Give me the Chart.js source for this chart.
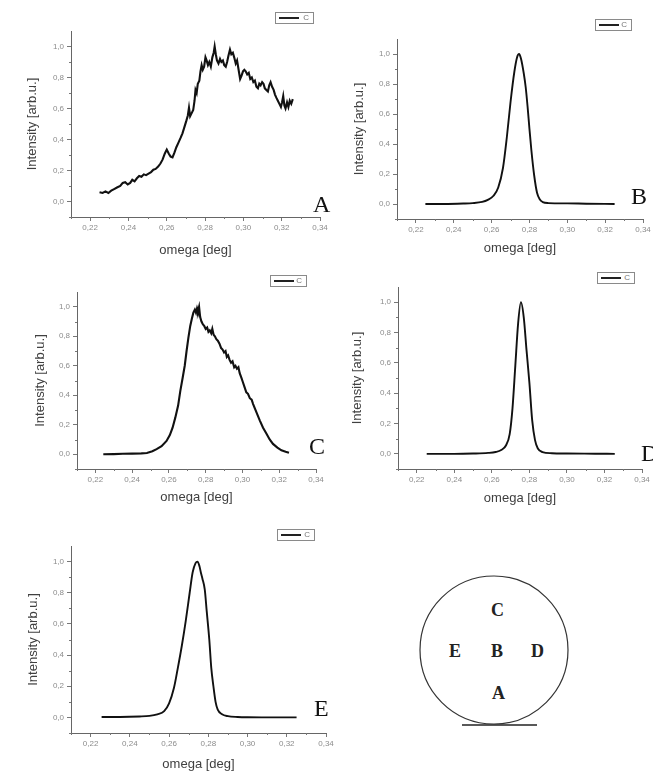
<!DOCTYPE html>
<html>
<head>
<meta charset="utf-8">
<script src="https://cdn.jsdelivr.net/npm/chart.js@4.4.1/dist/chart.umd.min.js"></script>
<style>
body{margin:0;background:#fff;width:653px;height:775px;position:relative;overflow:hidden;font-family:"Liberation Sans",Arial,sans-serif}
canvas{position:absolute}
.lg{position:absolute;border:1px solid #8a8a8a;background:#fff;font-size:8px;color:#777;line-height:9px}
.lg i{position:absolute;left:3px;top:4px;width:20px;height:2px;background:#222}
.lg span{position:absolute;right:4px;top:0}
.tag{position:absolute;font-family:"Liberation Serif","Times New Roman",serif;font-size:24px;line-height:24px;color:#111}
.wafer{position:absolute;font-family:"Liberation Serif","Times New Roman",serif;font-weight:bold;font-size:18px;line-height:18px;color:#222}
</style>
</head>
<body>
<svg style="position:absolute;left:400px;top:560px" width="200" height="180">
  <circle cx="94" cy="90" r="74" fill="none" stroke="#333" stroke-width="1.2"/>
  <line x1="62" y1="165" x2="137" y2="165" stroke="#222" stroke-width="1.5"/>
</svg>
<div class="wafer" style="left:491px;top:601px">C</div>
<div class="wafer" style="left:449px;top:642px">E</div>
<div class="wafer" style="left:491px;top:642px">B</div>
<div class="wafer" style="left:531px;top:642px">D</div>
<div class="wafer" style="left:492px;top:684px">A</div>
<script>
// tick values and labels (same for all five panels)
const xTicks = [0.22, 0.24, 0.26, 0.28, 0.30, 0.32, 0.34];
const xTickLabels = ['0,22', '0,24', '0,26', '0,28', '0,30', '0,32', '0,34'];
const xMinor = [0.21, 0.23, 0.25, 0.27, 0.29, 0.31, 0.33];
const yTicks = [0, 0.2, 0.4, 0.6, 0.8, 1.0];
const yTickLabels = ['0,0', '0,2', '0,4', '0,6', '0,8', '1,0'];
const yMinor = [-0.1, 0.1, 0.3, 0.5, 0.7, 0.9];
const seriesName = 'C';
const xTitle = 'omega [deg]';
const yTitle = 'Intensity [arb.u.]';

// panel A
const aX = [0.2249,0.2265,0.2280,0.2295,0.2310,0.2325,0.2340,0.2357,0.2370,0.2383,0.2396,0.2409,0.2420,0.2432,0.2444,0.2456,0.2468,0.2480,0.2492,0.2505,0.2518,0.2530,0.2542,0.2555,0.2567,0.2578,0.2590,0.2600,0.2610,0.2620,0.2630,0.2640,0.2650,0.2661,0.2672,0.2682,0.2692,0.2702,0.2710,0.2716,0.2722,0.2730,0.2738,0.2745,0.2750,0.2756,0.2762,0.2770,0.2776,0.2782,0.2788,0.2795,0.2802,0.2808,0.2815,0.2822,0.2830,0.2838,0.2845,0.2850,0.2856,0.2862,0.2870,0.2878,0.2885,0.2893,0.2900,0.2908,0.2915,0.2922,0.2930,0.2937,0.2945,0.2952,0.2960,0.2967,0.2975,0.2983,0.2990,0.2998,0.3005,0.3012,0.3020,0.3028,0.3036,0.3044,0.3052,0.3060,0.3068,0.3076,0.3083,0.3090,0.3098,0.3105,0.3112,0.3120,0.3128,0.3135,0.3142,0.3150,0.3158,0.3165,0.3172,0.3180,0.3188,0.3196,0.3202,0.3208,0.3214,0.3220,0.3228,0.3235,0.3242,0.3250,0.3258];
const aY = [0.06,0.055,0.065,0.055,0.07,0.08,0.09,0.10,0.12,0.125,0.11,0.12,0.14,0.13,0.15,0.165,0.16,0.175,0.17,0.18,0.19,0.205,0.21,0.225,0.245,0.27,0.31,0.335,0.31,0.29,0.285,0.315,0.35,0.38,0.41,0.44,0.48,0.52,0.555,0.605,0.55,0.57,0.59,0.65,0.72,0.70,0.76,0.78,0.84,0.88,0.85,0.87,0.93,0.91,0.88,0.90,0.87,0.93,0.96,1.0,0.95,0.91,0.89,0.92,0.90,0.91,0.88,0.87,0.90,0.94,0.98,0.95,0.96,0.93,0.89,0.91,0.85,0.79,0.81,0.84,0.85,0.84,0.82,0.83,0.79,0.80,0.77,0.78,0.74,0.73,0.76,0.75,0.77,0.76,0.73,0.72,0.71,0.75,0.77,0.74,0.72,0.69,0.67,0.65,0.63,0.61,0.64,0.68,0.62,0.60,0.64,0.61,0.65,0.63,0.66];

// panel B
const bX = [0.225,0.235,0.245,0.250,0.255,0.258,0.261,0.2635,0.266,0.268,0.270,0.272,0.2735,0.2745,0.2755,0.277,0.278,0.279,0.280,0.281,0.2825,0.284,0.2855,0.287,0.290,0.300,0.310,0.325];
const bY = [0.0,0.0,0.003,0.006,0.014,0.028,0.055,0.11,0.24,0.44,0.68,0.88,0.98,1.0,0.97,0.87,0.78,0.65,0.5,0.36,0.19,0.075,0.03,0.013,0.006,0.004,0.002,0.0];

// panel C
const cX = [0.2243,0.230,0.235,0.240,0.245,0.248,0.251,0.2533,0.256,0.2587,0.2605,0.2620,0.2635,0.2650,0.2662,0.2675,0.2686,0.2696,0.2706,0.2716,0.2725,0.2733,0.2741,0.2747,0.2753,0.2758,0.2764,0.2770,0.2777,0.2785,0.2792,0.2800,0.2808,0.2815,0.2822,0.2830,0.2836,0.2843,0.2850,0.2858,0.2866,0.2875,0.2884,0.2892,0.2900,0.2908,0.2915,0.2922,0.2930,0.2938,0.2946,0.2955,0.2962,0.2970,0.2978,0.2985,0.2994,0.3002,0.3010,0.3021,0.3030,0.3040,0.3050,0.3058,0.3074,0.3094,0.3112,0.3130,0.3148,0.3166,0.3190,0.3212,0.3235,0.3253];
const cY = [0.0,0.001,0.003,0.004,0.006,0.009,0.02,0.035,0.055,0.09,0.13,0.18,0.25,0.33,0.43,0.52,0.60,0.70,0.79,0.87,0.92,0.96,0.98,0.96,0.99,0.97,1.0,0.93,0.90,0.88,0.87,0.85,0.86,0.83,0.84,0.82,0.85,0.81,0.80,0.78,0.77,0.75,0.72,0.71,0.69,0.70,0.66,0.67,0.64,0.62,0.63,0.59,0.60,0.58,0.59,0.55,0.52,0.49,0.46,0.42,0.41,0.38,0.37,0.34,0.29,0.23,0.18,0.14,0.10,0.07,0.045,0.027,0.017,0.01];

// panel D
const dX = [0.2253,0.240,0.250,0.258,0.262,0.265,0.2675,0.2695,0.271,0.2725,0.274,0.2755,0.277,0.2785,0.280,0.2815,0.283,0.2845,0.287,0.292,0.300,0.315,0.3255];
const dY = [0.0,0.0,0.002,0.006,0.012,0.025,0.055,0.13,0.30,0.58,0.86,1.0,0.90,0.68,0.47,0.22,0.09,0.035,0.012,0.004,0.002,0.001,0.0];

// panel E
const eX = [0.2256,0.235,0.245,0.250,0.254,0.2575,0.260,0.2625,0.2645,0.2665,0.2685,0.2705,0.272,0.2735,0.2745,0.2755,0.2762,0.277,0.2782,0.2792,0.2805,0.2815,0.2826,0.2837,0.2848,0.287,0.290,0.295,0.300,0.310,0.325];
const eY = [0.003,0.003,0.006,0.01,0.02,0.04,0.09,0.19,0.32,0.46,0.62,0.80,0.93,0.99,1.0,0.97,0.93,0.89,0.82,0.68,0.5,0.32,0.2,0.1,0.05,0.02,0.008,0.003,0.001,0.0,0.0];

// where each panel sits on the page
const panels = [
  {tag: 'A', xs: aX, ys: aY, smooth: false, L: 71,  T: 31,  R: 320, B: 217, yOff: 39, xOff: 33, legend: [275, 12, 37, 10],  tagPos: [313, 192]},
  {tag: 'B', xs: bX, ys: bY, smooth: true,  L: 397, T: 39,  R: 643, B: 219, yOff: 38, xOff: 29, legend: [595, 19, 35, 10],  tagPos: [631, 184]},
  {tag: 'C', xs: cX, ys: cY, smooth: false, L: 77,  T: 292, R: 316, B: 469, yOff: 37, xOff: 28, legend: [270, 275, 35, 10], tagPos: [309, 434]},
  {tag: 'D', xs: dX, ys: dY, smooth: true,  L: 398, T: 287, R: 642, B: 469, yOff: 41, xOff: 29, legend: [597, 272, 36, 10], tagPos: [641, 441]},
  {tag: 'E', xs: eX, ys: eY, smooth: true,  L: 71,  T: 546, R: 326, B: 733, yOff: 38, xOff: 31, legend: [277, 529, 36, 10], tagPos: [314, 696]}
];

const fontFam = '"Liberation Sans", Arial, sans-serif';

const minorTicks = {
  id: 'minorTicks',
  afterDraw(chart) {
    const {ctx, chartArea: a, scales: {x, y}} = chart;
    ctx.save();
    ctx.strokeStyle = '#777';
    ctx.lineWidth = 1;
    ctx.beginPath();
    xMinor.forEach(v => {
      const px = Math.round(x.getPixelForValue(v)) + 0.5;
      ctx.moveTo(px, a.bottom);
      ctx.lineTo(px, a.bottom + 2);
    });
    yMinor.forEach(v => {
      const py = Math.round(y.getPixelForValue(v)) + 0.5;
      ctx.moveTo(a.left - 2, py);
      ctx.lineTo(a.left, py);
    });
    ctx.stroke();
    ctx.restore();
  }
};

function drawPanel(p) {
  const yW = 52, xH = 46, padT = 4, padR = 14;
  const w = yW + (p.R - p.L) + padR;
  const h = padT + (p.B - p.T) + xH;
  const cv = document.createElement('canvas');
  cv.width = w; cv.height = h;
  cv.style.left = (p.L - yW) + 'px';
  cv.style.top = (p.T - padT) + 'px';
  cv.style.width = w + 'px'; cv.style.height = h + 'px';
  document.body.appendChild(cv);

  new Chart(cv, {
    type: 'scatter',
    data: {
      datasets: [{
        label: seriesName,
        data: p.xs.map((x, i) => ({x: x, y: p.ys[i]})),
        showLine: true,
        borderColor: '#111',
        borderWidth: p.smooth ? 1.9 : 2.1,
        pointRadius: 0,
        tension: p.smooth ? 0.4 : 0,
        cubicInterpolationMode: p.smooth ? 'monotone' : 'default'
      }]
    },
    options: {
      responsive: false,
      animation: false,
      events: [],
      layout: {padding: {left: 0, top: padT, right: padR, bottom: 0}},
      plugins: {legend: {display: false}, tooltip: {enabled: false}},
      scales: {
        x: {
          type: 'linear', position: 'bottom', min: 0.21, max: 0.34,
          afterBuildTicks: s => { s.ticks = xTicks.map(v => ({value: v})); },
          afterFit: s => { s.height = xH; s.paddingLeft = 0; s.paddingRight = 0; },
          grid: {drawOnChartArea: false, tickLength: 4, color: '#777'},
          border: {color: '#666', width: 1},
          ticks: {callback: (v, i) => xTickLabels[i], font: {size: 8, family: fontFam}, color: '#8c8c8c', padding: 2, maxRotation: 0, autoSkip: false},
          title: {display: true, text: xTitle, font: {size: 13, family: fontFam}, color: '#404040', padding: {top: 0, bottom: xH - p.xOff - 7.8}}
        },
        y: {
          type: 'linear', min: -0.1, max: 1.1,
          afterBuildTicks: s => { s.ticks = yTicks.map(v => ({value: v})); },
          afterFit: s => { s.width = yW; s.paddingTop = 0; s.paddingBottom = 0; },
          grid: {drawOnChartArea: false, tickLength: 4, color: '#777'},
          border: {color: '#666', width: 1},
          ticks: {callback: (v, i) => yTickLabels[i], font: {size: 8, family: fontFam}, color: '#8c8c8c', padding: 3, autoSkip: false},
          title: {display: true, text: yTitle, font: {size: 13, family: fontFam}, color: '#404040', padding: {top: yW - p.yOff - 7.8, bottom: 0}}
        }
      }
    },
    plugins: [minorTicks]
  });

  // legend box like the Origin one
  const lg = document.createElement('div');
  lg.className = 'lg';
  lg.style.left = p.legend[0] + 'px';
  lg.style.top = p.legend[1] + 'px';
  lg.style.width = p.legend[2] + 'px';
  lg.style.height = p.legend[3] + 'px';
  lg.innerHTML = '<i></i><span>' + seriesName + '</span>';
  document.body.appendChild(lg);

  const tg = document.createElement('div');
  tg.className = 'tag';
  tg.style.left = p.tagPos[0] + 'px';
  tg.style.top = p.tagPos[1] + 'px';
  tg.textContent = p.tag;
  document.body.appendChild(tg);
}

panels.forEach(drawPanel);
</script>
</body>
</html>
